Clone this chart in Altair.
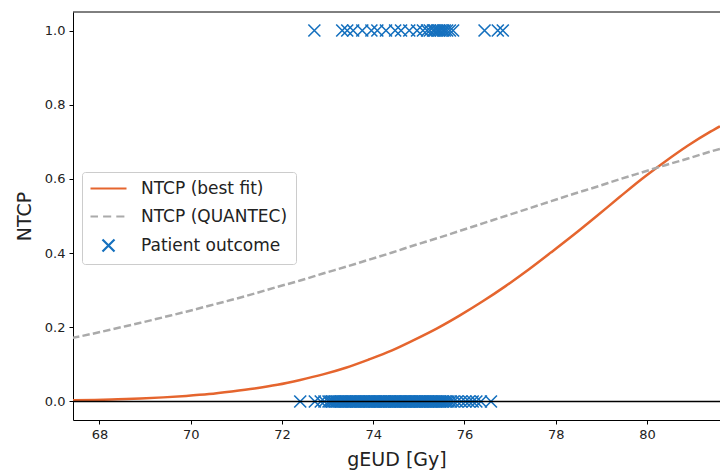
import altair as alt
import pandas as pd

# ---- data ----
dose_grid = [67.4, 67.9, 68.4, 68.9, 69.4, 69.9, 70.4, 70.9, 71.4, 71.9, 72.4, 72.9,
             73.4, 73.9, 74.4, 74.9, 75.4, 75.9, 76.4, 76.9, 77.4, 77.9, 78.4, 78.9,
             79.4, 79.9, 80.4, 80.9, 81.4, 81.6]
ntcp_fit = [0.003, 0.004, 0.006, 0.008, 0.011, 0.015, 0.020, 0.027, 0.035, 0.045, 0.058, 0.073,
            0.091, 0.113, 0.137, 0.166, 0.197, 0.232, 0.270, 0.311, 0.355, 0.402, 0.450, 0.500,
            0.551, 0.601, 0.647, 0.690, 0.728, 0.742]
ntcp_quantec = [0.171, 0.184, 0.198, 0.212, 0.227, 0.242, 0.258, 0.274, 0.291, 0.309, 0.326, 0.345,
                0.363, 0.382, 0.401, 0.421, 0.440, 0.460, 0.480, 0.500, 0.520, 0.540, 0.560, 0.579,
                0.599, 0.618, 0.637, 0.655, 0.674, 0.681]

geud_event = [72.71, 73.32, 73.43, 73.56, 73.76, 73.96, 74.09, 74.28, 74.48, 74.61, 74.79,
              74.96, 75.09, 75.18, 75.24, 75.31, 75.35, 75.40, 75.44, 75.48, 75.53, 75.57,
              75.62, 75.68, 75.75, 76.44, 76.73, 76.84]
geud_no_event = [72.40, 72.72, 72.85, 72.93, 73.02, 73.06, 73.10, 73.13, 73.17, 73.20, 73.22,
                 73.26, 73.29, 73.31, 73.35, 73.38, 73.40, 73.43, 73.47, 73.50, 73.52, 73.55,
                 73.58, 73.61, 73.63, 73.66, 73.69, 73.72, 73.74, 73.77, 73.80, 73.83, 73.85,
                 73.88, 73.91, 73.93, 73.96, 73.99, 74.02, 74.04, 74.07, 74.10, 74.12, 74.15,
                 74.18, 74.21, 74.23, 74.26, 74.29, 74.31, 74.34, 74.37, 74.40, 74.42, 74.45,
                 74.48, 74.50, 74.53, 74.56, 74.59, 74.61, 74.64, 74.67, 74.70, 74.72, 74.75,
                 74.78, 74.80, 74.83, 74.86, 74.89, 74.91, 74.94, 74.97, 75.00, 75.02, 75.05,
                 75.08, 75.10, 75.13, 75.16, 75.19, 75.21, 75.24, 75.27, 75.30, 75.32, 75.35,
                 75.38, 75.41, 75.44, 75.47, 75.50, 75.53, 75.57, 75.61, 75.65, 75.70, 75.76,
                 75.84, 75.93, 76.02, 76.10, 76.18, 76.26, 76.36, 76.58]

series_names = ["NTCP (best fit)", "NTCP (QUANTEC)", "Patient outcome"]
series_colors = ["#e5652e", "#aaaaaa", "#1570be"]
x_ticks = [68, 70, 72, 74, 76, 78, 80]
y_ticks = [0.0, 0.2, 0.4, 0.6, 0.8, 1.0]
x_domain = [67.42, 81.6]
y_domain = [-0.05, 1.05]

curves = pd.DataFrame({"geud": dose_grid, "fit": ntcp_fit, "quantec": ntcp_quantec})
patients = pd.DataFrame({
    "geud": geud_event + geud_no_event,
    "outcome": [1.0] * len(geud_event) + [0.0] * len(geud_no_event),
    "series": ["Patient outcome"] * (len(geud_event) + len(geud_no_event)),
})

W, H = 647, 408
FONT = "DejaVu Sans"

xscale = alt.Scale(domain=x_domain, nice=False, zero=False)
yscale = alt.Scale(domain=y_domain, nice=False, zero=False)
xaxis = alt.Axis(values=x_ticks, format="d", title="gEUD [Gy]", grid=False)
yaxis = alt.Axis(values=y_ticks, format=".1f", title="NTCP", grid=False)

X = alt.X("geud:Q", scale=xscale, axis=xaxis)

fit_line = alt.Chart(curves).mark_line(
    color=series_colors[0], strokeWidth=2.5, clip=True, interpolate="monotone"
).encode(x=X, y=alt.Y("fit:Q", scale=yscale, axis=yaxis))

quantec_line = alt.Chart(curves).mark_line(
    color=series_colors[1], strokeWidth=2.5, strokeDash=[7.4, 3.2], clip=True,
    interpolate="monotone"
).encode(x=X, y=alt.Y("quantec:Q", scale=yscale, axis=yaxis))

line_path = "M-3,0H3"
dash_path = "M-3,0H-1.75M-0.9,0H0.45M1.3,0H2.65"
marker_path = "M-1,-1L1,1M-1,1L1,-1"

points = alt.Chart(patients).mark_point(
    size=144, strokeWidth=1.6, opacity=1, filled=False
).encode(
    x=X,
    y=alt.Y("outcome:Q", scale=yscale, axis=yaxis),
    color=alt.Color("series:N", scale=alt.Scale(domain=series_names, range=series_colors),
                    legend=alt.Legend(title=None)),
    shape=alt.Shape("series:N",
                    scale=alt.Scale(domain=series_names,
                                    range=[line_path, dash_path, marker_path]),
                    legend=None),
)

zero_line = alt.Chart(pd.DataFrame({"y0": [0.0]})).mark_rule(
    color="black", strokeWidth=1.6
).encode(y=alt.Y("y0:Q", scale=yscale, axis=yaxis))

top_spine = alt.Chart(pd.DataFrame({"a": [0]})).mark_rule(
    color="black", strokeWidth=1
).encode(x=alt.value(0), x2=alt.value(W), y=alt.value(0))

chart = alt.layer(fit_line, quantec_line, points, zero_line, top_spine).properties(
    width=W, height=H,
    autosize=alt.AutoSizeParams(type="none"),
    padding={"left": 73, "top": 12, "right": 0, "bottom": 55},
).configure_view(stroke=None).configure_axis(
    domainColor="black", domainWidth=1, tickColor="black", tickSize=4, tickWidth=1,
    labelFont=FONT, labelFontSize=13, labelColor="#222222", labelPadding=4,
    titleFont=FONT, titleFontSize=19, titleFontWeight="normal", titleColor="#222222",
).configure_axisX(titlePadding=9).configure_axisY(titlePadding=10).configure_legend(
    orient="none", legendX=9, legendY=160, padding=8, strokeColor="#cccccc",
    fillColor="white", cornerRadius=3, labelFont=FONT, labelFontSize=17,
    labelColor="#222222", symbolSize=144, symbolStrokeWidth=2.2, symbolOffset=10,
    labelOffset=24, rowPadding=10, symbolFillColor="transparent"
)

chart.save("out.html", embed_options={"renderer": "svg", "actions": False})
